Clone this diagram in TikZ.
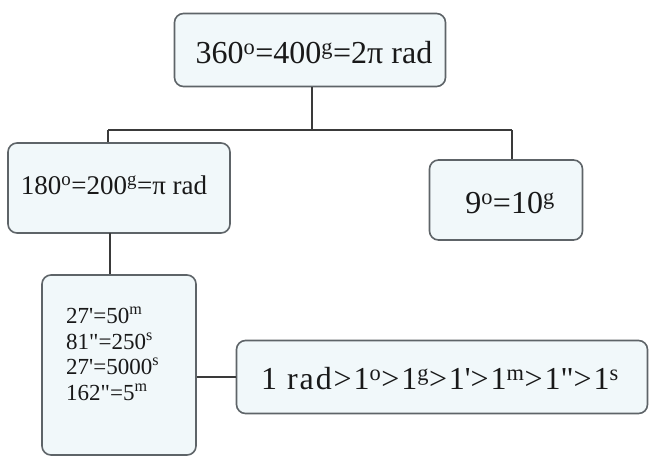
\documentclass[tikz,border=0pt]{standalone}
\usepackage{fontspec}
\setmainfont{Liberation Serif}
\definecolor{boxfill}{HTML}{F1F8FA}
\definecolor{boxline}{HTML}{5E6468}
\definecolor{conn}{HTML}{3A3A3A}
\tikzset{
  unitbox/.style={draw=boxline, line width=1.6pt, fill=boxfill, rounded corners=9pt, inner sep=0pt},
  boxtext/.style={inner sep=0pt, align=center, text=black!90},
  link/.style={draw=conn, line width=1.3pt}
}
\newcommand{\su}[1]{\textsuperscript{#1}}
\newcommand{\pr}{\textquotesingle}
\newcommand{\dpr}{\textquotedbl}
\begin{document}
\begin{tikzpicture}[x=1pt,y=-1pt]
\useasboundingbox[fill=white] (0,0) rectangle (650,463);
\node[unitbox, minimum width=271pt, minimum height=73pt] (top) at (310,50) {};
\node[boxtext, font=\fontsize{32}{36}\selectfont] (toptext) at (314,53) {360\su{o}=400\su{g}=2π rad};
\node[unitbox, minimum width=222pt, minimum height=90pt] (left) at (119,188) {};
\node[boxtext, font=\fontsize{27}{30}\selectfont] (lefttext) at (114,185) {180\su{o}=200\su{g}=π rad};
\node[unitbox, minimum width=153pt, minimum height=80pt] (right) at (506,200) {};
\node[boxtext, font=\fontsize{32}{36}\selectfont] (righttext) at (510,203) {9\su{o}=10\su{g}};
\node[unitbox, minimum width=154pt, minimum height=180pt] (bl) at (119,365) {};
\node[boxtext, align=left, anchor=west, font=\fontsize{23}{25.5}\selectfont] (bltext) at (66,354) {27\pr=50\su{m}\\81\dpr=250\su{s}\\27\pr=5000\su{s}\\162\dpr=5\su{m}};
\node[unitbox, minimum width=411pt, minimum height=73pt] (br) at (442,377) {};
\node[boxtext, font=\fontsize{32}{34}\selectfont\addfontfeature{LetterSpace=6}] (brtext) at (440,379) {1 rad>1\su{o}>1\su{g}>1\pr>1\su{m}>1\dpr>1\su{s}};
\coordinate (j) at (312,130);
\coordinate (jl) at (108,130);
\coordinate (jr) at (512,130);
\coordinate (lb) at (110,233);
\draw[link] (j |- top.south) -- (j);
\draw[link] (jl) -- (jr);
\draw[link] (jl) -- (jl |- left.north);
\draw[link] (jr) -- (jr |- right.north);
\draw[link] (lb) -- (lb |- bl.north);
\draw[link] (br.west -| bl.east) -- (br.west);
\end{tikzpicture}
\end{document}
